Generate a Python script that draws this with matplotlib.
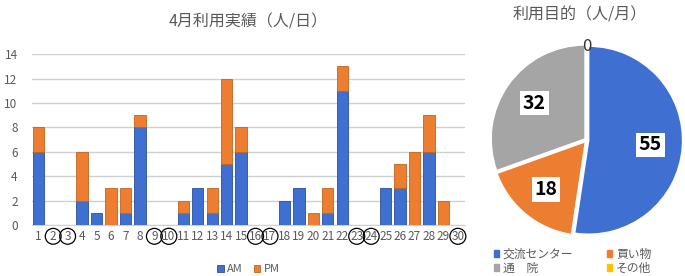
import matplotlib.pyplot as plt
from matplotlib.patches import Patch

plt.rcParams['font.family'] = ['Noto Sans CJK JP', 'DejaVu Sans']

days = list(range(1, 31))
am = [6, 0, 0, 2, 1, 0, 1, 8, 0, 0, 1, 3, 1, 5, 6, 0, 0, 2, 3, 0, 1, 11, 0, 0, 3, 3, 0, 6, 0, 0]
pm = [2, 0, 0, 4, 0, 3, 2, 1, 0, 0, 1, 0, 2, 7, 2, 0, 0, 0, 0, 1, 2, 2, 0, 0, 0, 2, 6, 3, 2, 0]
holidays = [2, 3, 9, 10, 16, 17, 23, 24, 30]

purpose = ['交流センター', '買い物', '通　院', 'その他']
counts = [55, 18, 32, 0]

blue = '#3e6fd1'
orange = '#ed7d31'
gray = '#a5a5a5'
yellow = '#ffc000'
txt = '#595959'

fig = plt.figure(figsize=(6.85, 2.76), dpi=100)

# bar chart
ax = fig.add_axes([0.046, 0.185, 0.633, 0.619])
ax.bar(days, am, width=0.78, color=blue, edgecolor='#2a4f99',
       linewidth=[0.6 if v else 0 for v in am], label='AM', zorder=3)
ax.bar(days, pm, width=0.78, bottom=am, color=orange, edgecolor='#c0651f',
       linewidth=[0.6 if v else 0 for v in pm], label='PM', zorder=3)
ax.set_xlim(0.5, 30.5)
ax.set_ylim(0, 14)
ax.set_yticks(range(0, 15, 2))
ax.yaxis.grid(True, color='#d0d0d0', linewidth=1, zorder=0)
for s in ax.spines.values():
    s.set_visible(False)
ax.spines['bottom'].set_visible(True)
ax.spines['bottom'].set_color('#d0d0d0')
ax.tick_params(length=0, labelsize=8.5, labelcolor=txt)
ax.tick_params(axis='y', pad=10)
ax.set_xticks(days)
ax.set_xticklabels([str(d) for d in days])
for lbl, d in zip(ax.get_xticklabels(), days):
    if d in holidays:
        lbl.set_bbox(dict(boxstyle='circle,pad=0.12', fc='none', ec='black', lw=0.9))
ax.set_title('4月利用実績（人/日）', fontsize=11.5, color=txt, pad=20)
ax.legend(loc='upper center', bbox_to_anchor=(0.5, -0.17), ncol=2, frameon=False,
          fontsize=8, handlelength=0.6, handleheight=0.6, handletextpad=0.3,
          columnspacing=1.0, labelcolor=txt)

# pie chart
pax = fig.add_axes([0.715, 0.141, 0.283, 0.703])
wedges, texts, autotexts = pax.pie(
    counts, colors=[blue, orange, gray, yellow], startangle=90, counterclock=False,
    explode=[0.02, 0.02, 0.02, 0.02], autopct=lambda p: '%d' % round(p * sum(counts) / 100),
    pctdistance=0.66, wedgeprops=dict(edgecolor='white', linewidth=1.2))
for t, c in zip(autotexts, counts):
    if c == 0:
        t.set_position((0, 0.99))
        t.set_fontsize(12)
        t.set_color('#333333')
    else:
        t.set_fontsize(14)
        t.set_fontweight('bold')
        t.set_color('black')
        t.set_bbox(dict(fc='white', ec='none', pad=2))
pax.set_aspect('equal')
pax.set_xlim(-1.03, 1.03)
pax.set_ylim(-1.03, 1.03)
fig.text(0.847, 0.945, '利用目的（人/月）', ha='center', va='center', fontsize=11.5, color=txt)

handles = [Patch(color=blue), Patch(color=gray), Patch(color=orange), Patch(color=yellow)]
labels = ['交流センター', '通　院', '買い物', 'その他']
fig.legend(handles, labels, loc='lower left', bbox_to_anchor=(0.705, -0.035), ncol=2,
           frameon=False, fontsize=8.5, handlelength=0.5, handleheight=0.5,
           handletextpad=0.3, columnspacing=2.8, labelspacing=0.1, labelcolor=txt)

fig.savefig('out.png', dpi=100)
